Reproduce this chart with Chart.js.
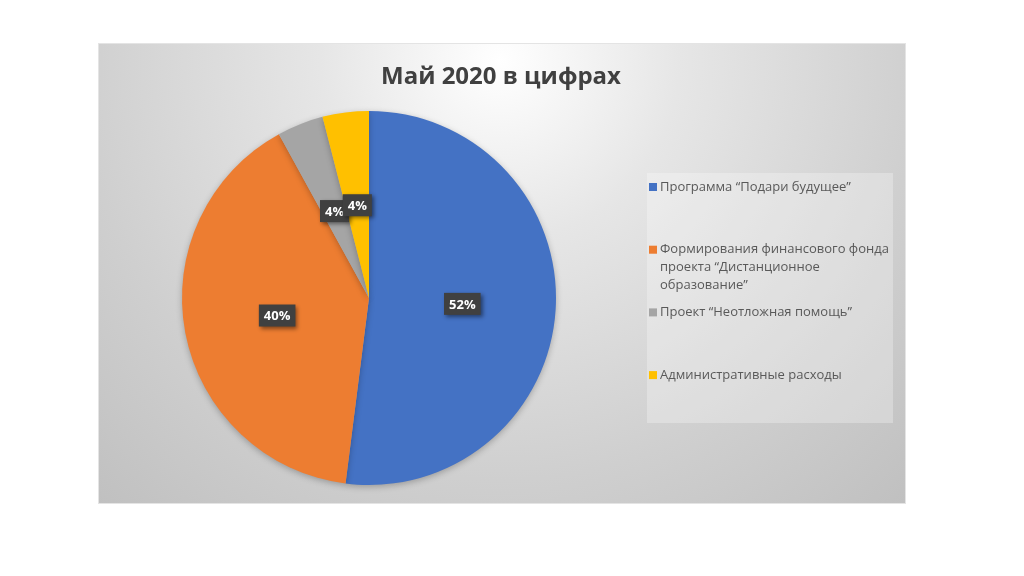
<!DOCTYPE html>
<html>
<head>
<meta charset="utf-8">
<script src="https://cdn.jsdelivr.net/npm/chart.js@4.4.1/dist/chart.umd.min.js"></script>
<style>
  html, body { margin: 0; padding: 0; background: #ffffff; }
  #chart { display: block; }
</style>
</head>
<body>
<canvas id="chart" width="1024" height="576"></canvas>
<script>
const titulo = 'Май 2020 в цифрах';
const categorias = [
  'Программа “Подари будущее”',
  ['Формирования финансового фонда', 'проекта “Дистанционное', 'образование”'],
  'Проект “Неотложная помощь”',
  'Административные расходы'
];
const valores = [52, 40, 4, 4];
const cores = ['#4472C4', '#ED7D31', '#A5A5A5', '#FFC000'];

const ctx = document.getElementById('chart');

// fundo cinza com gradiente, caixa da legenda e título
const fundo = {
  id: 'fundo',
  beforeDraw(chart) {
    const c = chart.ctx;
    c.save();
    c.fillStyle = '#ffffff';
    c.fillRect(0, 0, chart.width, chart.height);

    const g = c.createRadialGradient(500, 60, 0, 500, 60, 600);
    g.addColorStop(0, '#ffffff');
    g.addColorStop(0.3, '#e6e6e6');
    g.addColorStop(0.7, '#cfcfcf');
    g.addColorStop(1, '#c0c0c0');
    c.fillStyle = g;
    c.fillRect(99, 44, 806, 459);
    c.strokeStyle = '#e4e4e4';
    c.lineWidth = 1;
    c.strokeRect(98.5, 43.5, 807, 460);

    // caixa da legenda
    c.fillStyle = 'rgba(255,255,255,0.28)';
    c.fillRect(647, 173, 246, 250);

    c.fillStyle = '#404040';
    c.font = 'bold 24px "Open Sans"';
    c.textAlign = 'center';
    c.textBaseline = 'middle';
    c.fillText(titulo, 501, 77);
    c.restore();
  },
  beforeDatasetsDraw(chart) {
    const c = chart.ctx;
    c.save();
    c.shadowColor = 'rgba(0,0,0,0.25)';
    c.shadowBlur = 6;
    c.shadowOffsetY = 2;
  },
  afterDatasetsDraw(chart) {
    chart.ctx.restore();
  }
};

// rótulos escuros com porcentagem + legenda à direita
const rotulos = {
  id: 'rotulos',
  afterDraw(chart) {
    const c = chart.ctx;
    const meta = chart.getDatasetMeta(0);
    c.save();
    c.font = 'bold 13px "Open Sans"';
    c.textAlign = 'center';
    c.textBaseline = 'middle';
    meta.data.forEach((arc, i) => {
      const p = arc.tooltipPosition();
      const txt = valores[i] + '%';
      const w = c.measureText(txt).width + 10;
      const h = 22;
      c.save();
      c.shadowColor = 'rgba(0,0,0,0.45)';
      c.shadowBlur = 4;
      c.shadowOffsetX = 2;
      c.shadowOffsetY = 2;
      c.fillStyle = '#404040';
      c.fillRect(p.x - w / 2, p.y - h / 2, w, h);
      c.restore();
      c.fillStyle = '#ffffff';
      c.fillText(txt, p.x, p.y + 1);
    });

    // legenda
    c.font = '13px "Open Sans"';
    c.textAlign = 'left';
    categorias.forEach((cat, i) => {
      const y = 187 + i * 62.7;
      c.fillStyle = cores[i];
      c.fillRect(649, y - 4, 8, 8);
      c.fillStyle = '#595959';
      const linhas = Array.isArray(cat) ? cat : [cat];
      linhas.forEach((l, j) => c.fillText(l, 660, y + j * 18));
    });
    c.restore();
  }
};

new Chart(ctx, {
  type: 'pie',
  data: {
    labels: categorias,
    datasets: [{
      data: valores,
      backgroundColor: cores,
      borderWidth: 0
    }]
  },
  options: {
    responsive: false,
    animation: false,
    layout: {
      padding: { left: 181, right: 467, top: 111, bottom: 91 }
    },
    plugins: {
      legend: { display: false },
      tooltip: { enabled: false }
    }
  },
  plugins: [fundo, rotulos]
});
</script>
</body>
</html>
